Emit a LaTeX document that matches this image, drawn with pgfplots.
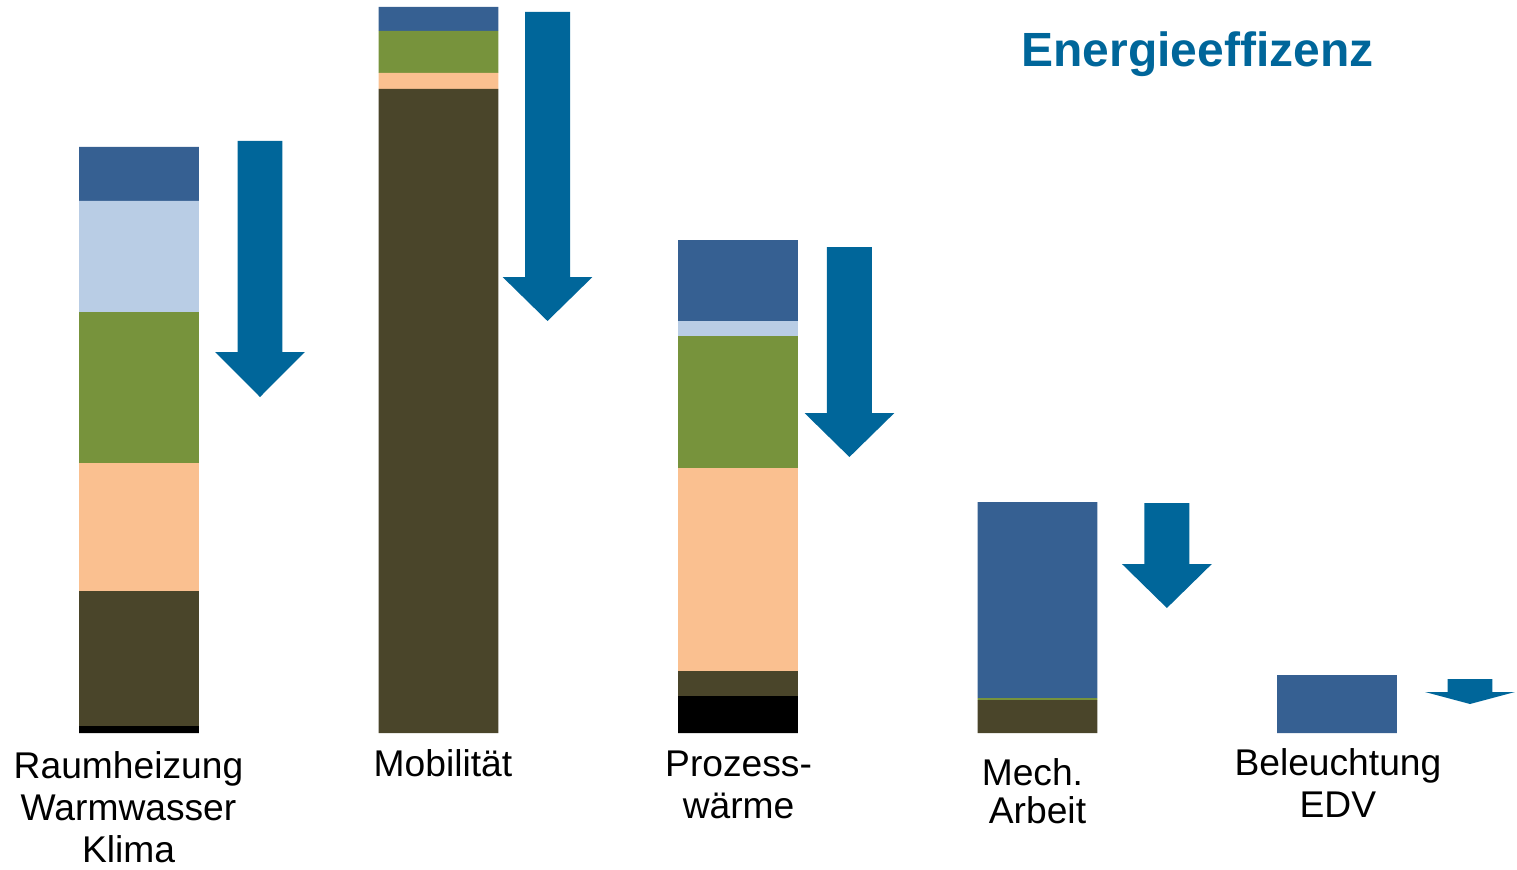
\documentclass[border=0pt]{standalone}
\usepackage{fontspec}
\setmainfont{Liberation Sans}
\usepackage{pgfplots}
\pgfplotsset{compat=1.18}
\usepackage{pgfplotstable}

\definecolor{cBlue}{HTML}{366092}
\definecolor{cLightBlue}{HTML}{B9CDE5}
\definecolor{cGreen}{HTML}{77933C}
\definecolor{cPeach}{HTML}{FAC090}
\definecolor{cOlive}{HTML}{4A452A}
\definecolor{cArrow}{HTML}{00669A}

\tikzset{lbl/.style={font=\fontsize{18.6}{22}\selectfont, anchor=base, inner sep=0pt}}

% Energy demand per application, stacked by carrier (bottom to top)
\pgfplotstableread{
x black olive peach green lightblue blue
0  7  135 128 151 111 54
1  0  644  16  42   0 24
2 37   25 203 132  15 81
3  0   33   0   2   0 196
4  0    0   0   0   0 58
}\energy

% Savings arrows: centre x, top of shaft, start of head, tip
\pgfplotstableread{
cx top neck tip
0.404 592 381 336
1.364 721 456 412
2.372 486 320 276
3.432 230 169 125
4.444  54  41  29
}\arrows

\newcommand{\savearrow}[4]{%
  \fill[cArrow] (axis cs:#1-0.0751,#2) -- (axis cs:#1+0.0751,#2)
    -- (axis cs:#1+0.0751,#3) -- (axis cs:#1+0.150,#3)
    -- (axis cs:#1,#4) -- (axis cs:#1-0.150,#3)
    -- (axis cs:#1-0.0751,#3) -- cycle;}

\begin{document}
\begin{tikzpicture}
\begin{axis}[
  scale only axis,
  width=758.5pt, height=434.5pt,
  xmin=-0.4641, xmax=4.6010,
  ymin=-136, ymax=733,
  hide axis,
  clip=false,
  ybar stacked,
  bar width=0.4,
  every axis plot/.append style={draw=none},
]
\path (rel axis cs:0,0) rectangle (rel axis cs:1,1);

\addplot[fill=black]      table[x=x, y=black]     {\energy};
\addplot[fill=cOlive]     table[x=x, y=olive]     {\energy};
\addplot[fill=cPeach]     table[x=x, y=peach]     {\energy};
\addplot[fill=cGreen]     table[x=x, y=green]     {\energy};
\addplot[fill=cLightBlue] table[x=x, y=lightblue] {\energy};
\addplot[fill=cBlue]      table[x=x, y=blue]      {\energy};

\pgfplotstablegetrowsof{\arrows}
\pgfmathtruncatemacro{\nrows}{\pgfplotsretval-1}
\pgfplotsforeachungrouped \i in {0,...,\nrows}{%
  \pgfplotstablegetelem{\i}{cx}\of{\arrows}\let\acx\pgfplotsretval
  \pgfplotstablegetelem{\i}{top}\of{\arrows}\let\atop\pgfplotsretval
  \pgfplotstablegetelem{\i}{neck}\of{\arrows}\let\aneck\pgfplotsretval
  \pgfplotstablegetelem{\i}{tip}\of{\arrows}\let\atip\pgfplotsretval
  \edef\tmp{\noexpand\savearrow{\acx}{\atop}{\aneck}{\atip}}%
  \tmp
}

% category labels
\node[lbl] at (axis cs:-0.035,-45)  {Raumheizung};
\node[lbl] at (axis cs:-0.035,-87)  {Warmwasser};
\node[lbl] at (axis cs:-0.035,-129) {Klima};
\node[lbl] at (axis cs:1.015,-43)   {Mobilität};
\node[lbl] at (axis cs:2.002,-43)   {Prozess-};
\node[lbl] at (axis cs:2.002,-85)   {wärme};
\node[lbl] at (axis cs:2.983,-52)   {Mech.};
\node[lbl] at (axis cs:3.000,-90)   {Arbeit};
\node[lbl] at (axis cs:4.003,-42)   {Beleuchtung};
\node[lbl] at (axis cs:4.003,-84)   {EDV};

\node[anchor=base, inner sep=0pt, text=cArrow,
      font=\fontsize{24}{28}\selectfont\bfseries]
  at (axis cs:3.534,666) {Energieeffizenz};
\end{axis}
\end{tikzpicture}
\end{document}
